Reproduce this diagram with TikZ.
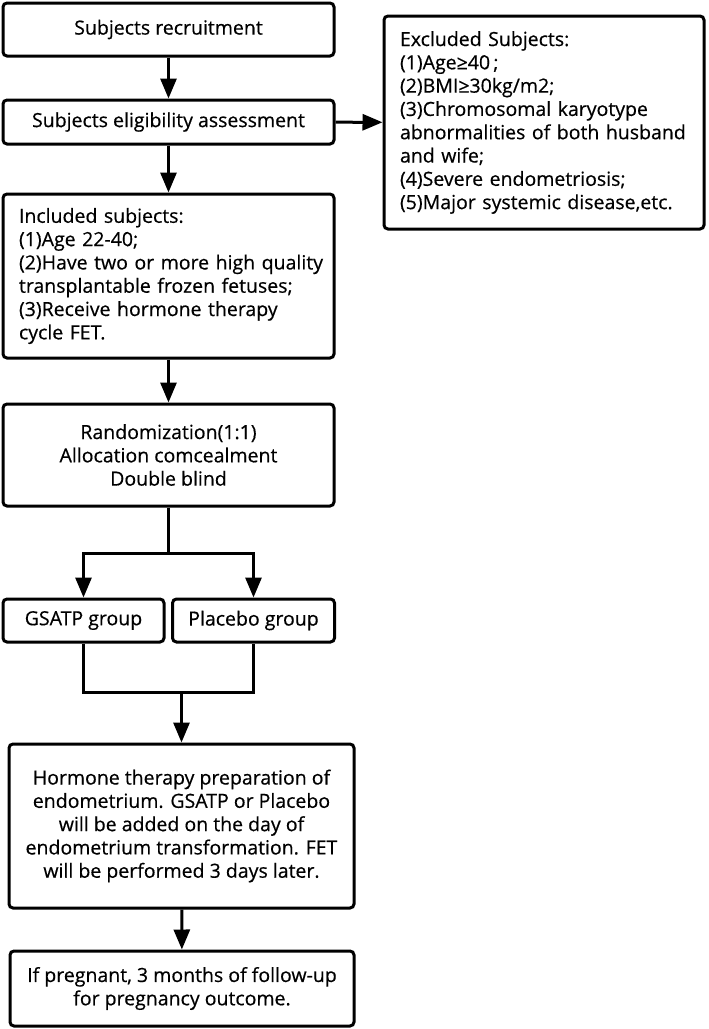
\documentclass[tikz,border=0pt]{standalone}
\usepackage{fontspec}
\setmainfont{Open Sans}[FakeBold=0.5]
\usetikzlibrary{arrows.meta}
\tikzset{
  box/.style={draw, line width=3pt, rounded corners=4pt, inner sep=0pt, font=\fontsize{19.5}{23.3}\selectfont},
  conn/.style={line width=3pt},
  arr/.style={conn, -{Triangle[length=20pt,width=16pt]}},
}
\hbadness=10000 \hfuzz=100pt
\begin{document}
\begin{tikzpicture}[x=1pt,y=-1pt]
\useasboundingbox (0,0) rectangle (709,1029);
\node[box, minimum width=331pt, minimum height=53pt] (r1) at (168.5,29.5) {Subjects recruitment};
\node[box, minimum width=331pt, minimum height=44pt] (r2) at (168.5,122) {Subjects eligibility assessment};
\node[box, minimum width=320pt, minimum height=213pt, text width=288pt, align=left] (ex) at (544,122.5) {Excluded Subjects:\\(1)Age≥40\,;\\(2)BMI≥30kg/m2;\\(3)Chromosomal karyotype\\abnormalities of both husband\\and wife;\\(4)Severe endometriosis;\\(5)Major systemic disease,etc.};
\node[box, minimum width=331pt, minimum height=164pt, text width=299pt, align=left] (inc) at (168.5,276) {Included subjects:\\(1)Age 22-40;\\\mbox{(2)Have two or more high quality}\\transplantable frozen fetuses;\\(3)Receive hormone therapy\\cycle FET.};
\node[box, minimum width=331pt, minimum height=102pt, align=center] (rand) at (168.5,455) {Randomization(1:1)\\Allocation comcealment\\Double blind};
\node[box, minimum width=161pt, minimum height=43pt] (g1) at (83.5,620.5) {GSATP group};
\node[box, minimum width=162pt, minimum height=43pt] (g2) at (253.5,620.5) {Placebo group};
\node[box, minimum width=345pt, minimum height=164pt, align=center] (hor) at (181.5,826) {Hormone therapy preparation of\\endometrium. GSATP or Placebo\\will be added on the day of\\endometrium transformation. FET\\will be performed 3 days later.};
\node[box, minimum width=344pt, minimum height=75pt, align=center] (fu) at (182,988.5) {If pregnant, 3 months of follow-up\\for pregnancy outcome.};
\coordinate (split) at (168.5,553);
\coordinate (sl) at (83.5,553);
\coordinate (sr) at (253.5,553);
\coordinate (jl) at (83.5,692);
\coordinate (jr) at (253.5,692);
\coordinate (jm) at (181.5,692);
\draw[arr] (r1) -- (r2);
\draw[arr] (r2) -- (ex);
\draw[arr] (r2) -- (inc);
\draw[arr] (inc) -- (rand);
\draw[conn] (rand.south) -- (split);
\draw[arr] (split) -- (sl) -- (g1.north);
\draw[arr] (split) -- (sr) -- (g2.north);
\draw[conn] (g1.south) -- (jl) -- (jr) -- (g2.south);
\draw[arr] (jm) -- (hor.north);
\draw[arr] (hor) -- (fu);
\end{tikzpicture}
\end{document}
